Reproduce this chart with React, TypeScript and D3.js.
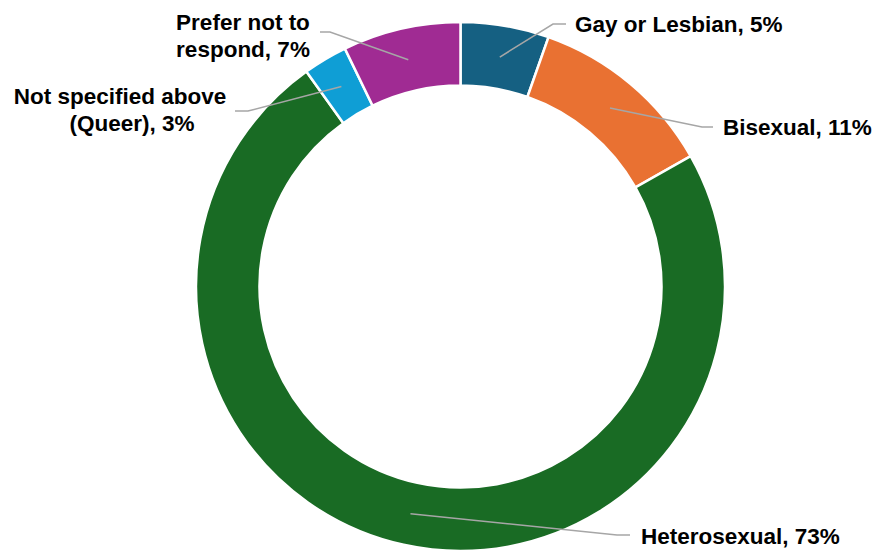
import React from "react";
import * as d3 from "d3";

const categories = ["Gay or Lesbian", "Bisexual", "Heterosexual", "Not specified above (Queer)", "Prefer not to respond"];
const values = [5.4, 11.4, 73.3, 2.7, 7.2];
const percentLabels = ["5%", "11%", "73%", "3%", "7%"];
const colors = ["#156082", "#E97132", "#196B24", "#0F9ED5", "#A02B93"];

// label layout (Excel-placed data labels)
const labelLayout = [
  { elbow: [553, 24], end: [566, 24], lines: [{ t: "Gay or Lesbian, 5%", x: 575, y: 32, anchor: "start" }] },
  { elbow: [702, 127], end: [713, 127], lines: [{ t: "Bisexual, 11%", x: 723, y: 135, anchor: "start" }] },
  { elbow: [617, 535], end: [630, 535], lines: [{ t: "Heterosexual, 73%", x: 641, y: 544, anchor: "start" }] },
  {
    elbow: [248, 111], end: [235, 111], lines: [
      { t: "Not specified above", x: 120, y: 104, anchor: "middle" },
      { t: "(Queer), 3%", x: 132, y: 131, anchor: "middle" },
    ]
  },
  {
    elbow: [330, 32], end: [320, 32], lines: [
      { t: "Prefer not to", x: 243, y: 30, anchor: "middle" },
      { t: "respond, 7%", x: 243, y: 57, anchor: "middle" },
    ]
  },
];

export default function App() {
  const W = 876, H = 550;
  const cx = 460.5, cy = 286.5;
  const outer = 264.5, inner = 201;
  const pie = d3.pie<number>().sort(null).value((d) => d);
  const arcs = pie(values);
  const arc = d3.arc<d3.PieArcDatum<number>>().innerRadius(inner).outerRadius(outer);
  return (
    <svg width={W} height={H} style={{ position: "absolute", left: 0, top: 0, background: "#fff" }}>
      <g transform={`translate(${cx},${cy})`}>
        {arcs.map((a, i) => (
          <path key={i} d={arc(a) || ""} fill={colors[i]} stroke="#fff" strokeWidth={2.5} />
        ))}
      </g>
      {arcs.map((a, i) => {
        const [x, y] = arc.centroid(a);
        const L = labelLayout[i];
        const pts = [[cx + x, cy + y], L.elbow, L.end];
        return (
          <g key={"l" + i}>
            <polyline points={pts.map((p) => p.join(",")).join(" ")} fill="none" stroke="#A6A6A6" strokeWidth={1.5} />
            {L.lines.map((ln, j) => (
              <text key={j} x={ln.x} y={ln.y} textAnchor={ln.anchor as any}
                fontFamily="'Liberation Sans', Arial, sans-serif" fontWeight="bold" fontSize={22.5} fill="#000">
                {ln.t}
              </text>
            ))}
          </g>
        );
      })}
    </svg>
  );
}
